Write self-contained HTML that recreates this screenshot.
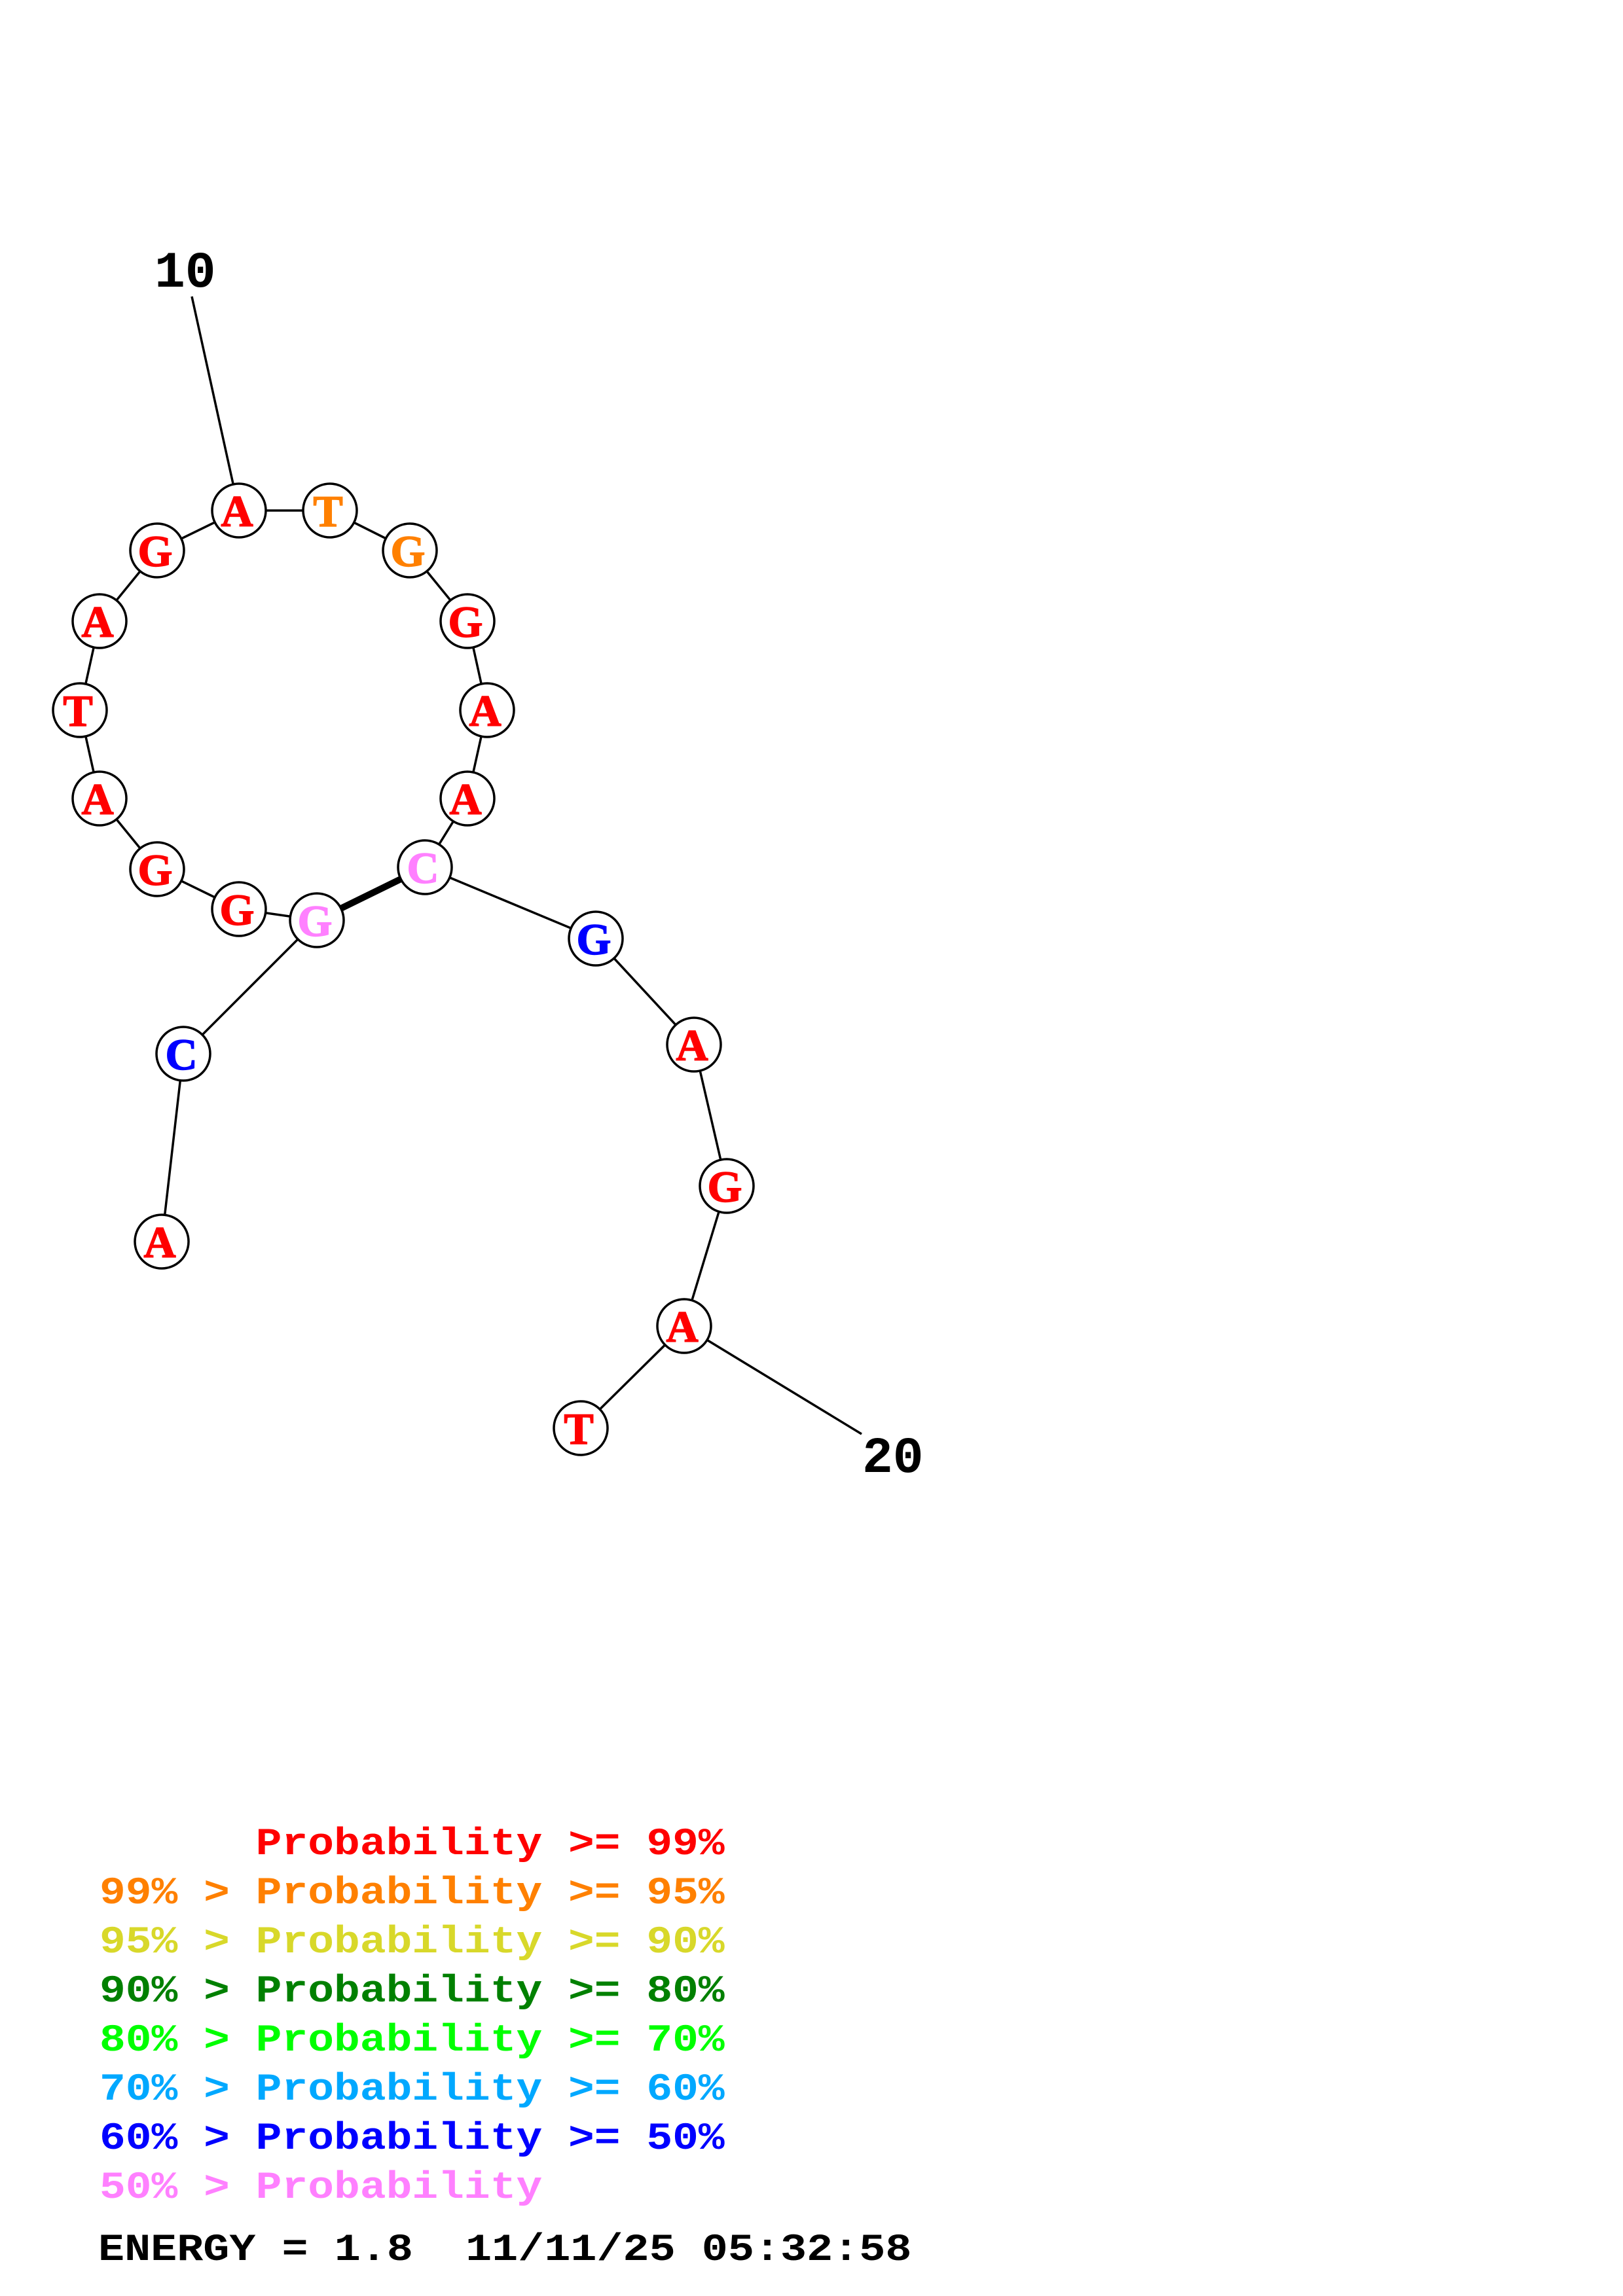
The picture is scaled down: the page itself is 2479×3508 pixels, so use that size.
<!DOCTYPE html>
<html><head><meta charset="utf-8"><style>html,body{margin:0;padding:0;background:#fff}svg{display:block}
.n{font-family:"Liberation Serif",serif;font-weight:bold;font-size:68px;text-anchor:middle;stroke:currentColor;stroke-width:1.5}
.l{font-family:"Liberation Mono",monospace;font-weight:bold;font-size:66.3px;white-space:pre}
.b{font-family:"Liberation Mono",monospace;font-weight:bold;font-size:78px}
circle{fill:#fff;stroke:#000;stroke-width:3.5}</style></head><body>
<svg width="2479" height="3508" viewBox="0 0 2479 3508" xmlns="http://www.w3.org/2000/svg">
<g transform="translate(0,1)">
<g stroke="#000" stroke-width="3.5" fill="none">
<polyline points="293,452 365,779 504,779 626,840 714,948 744,1084 714,1219 649,1324 910,1433 1060,1595 1110,1811 1045,2025 1316,2190"/>
<polyline points="365,779 240,840 152,948 122,1084 152,1219 240,1327 365,1388 484,1405 280,1609 247,1896"/>
<line x1="1045" y1="2025" x2="887" y2="2181"/>
<line x1="484" y1="1405" x2="649" y2="1324" stroke-width="10"/>
</g>
<g>
<circle cx="365" cy="779" r="41"/><circle cx="504" cy="779" r="41"/><circle cx="626" cy="840" r="41"/><circle cx="714" cy="948" r="41"/><circle cx="744" cy="1084" r="41"/><circle cx="714" cy="1219" r="41"/><circle cx="649" cy="1324" r="41"/><circle cx="484" cy="1405" r="41"/><circle cx="365" cy="1388" r="41"/><circle cx="240" cy="1327" r="41"/><circle cx="152" cy="1219" r="41"/><circle cx="122" cy="1084" r="41"/><circle cx="152" cy="948" r="41"/><circle cx="240" cy="840" r="41"/><circle cx="910" cy="1433" r="41"/><circle cx="1060" cy="1595" r="41"/><circle cx="1110" cy="1811" r="41"/><circle cx="1045" cy="2025" r="41"/><circle cx="887" cy="2181" r="41"/><circle cx="280" cy="1609" r="41"/><circle cx="247" cy="1896" r="41"/>
</g>
</g>
<g fill="#f00" color="#f00" transform="translate(0,-2)">
<text class="n" x="362" y="806">A</text>
<text class="n" x="501" y="806" fill="#ff8000" color="#ff8000">T</text>
<text class="n" x="623" y="867" fill="#ff8000" color="#ff8000">G</text>
<text class="n" x="711" y="975">G</text>
<text class="n" x="741" y="1111">A</text>
<text class="n" x="711" y="1246">A</text>
<text class="n" x="646" y="1351" fill="#ff80ff" color="#ff80ff">C</text>
<text class="n" x="481" y="1432" fill="#ff80ff" color="#ff80ff">G</text>
<text class="n" x="362" y="1415">G</text>
<text class="n" x="237" y="1354">G</text>
<text class="n" x="149" y="1246">A</text>
<text class="n" x="119" y="1111">T</text>
<text class="n" x="149" y="975">A</text>
<text class="n" x="237" y="867">G</text>
<text class="n" x="907" y="1460" fill="#00f" color="#00f">G</text>
<text class="n" x="1057" y="1622">A</text>
<text class="n" x="1107" y="1838">G</text>
<text class="n" x="1042" y="2052">A</text>
<text class="n" x="884" y="2208">T</text>
<text class="n" x="277" y="1636" fill="#00f" color="#00f">C</text>
<text class="n" x="244" y="1923">A</text>
</g>
<text class="b" x="236" y="438">10</text>
<text class="b" x="1317" y="2249">20</text>
<g>
<text class="l" transform="translate(152,2833) scale(1,.88)" fill="#f00" xml:space="preserve">      Probability &gt;= 99%</text>
<text class="l" transform="translate(152,2908) scale(1,.88)" fill="#ff8000" xml:space="preserve">99% &gt; Probability &gt;= 95%</text>
<text class="l" transform="translate(152,2983) scale(1,.88)" fill="#d8d82a" xml:space="preserve">95% &gt; Probability &gt;= 90%</text>
<text class="l" transform="translate(152,3058) scale(1,.88)" fill="#008000" xml:space="preserve">90% &gt; Probability &gt;= 80%</text>
<text class="l" transform="translate(152,3133) scale(1,.88)" fill="#0f0" xml:space="preserve">80% &gt; Probability &gt;= 70%</text>
<text class="l" transform="translate(152,3208) scale(1,.88)" fill="#00a8ff" xml:space="preserve">70% &gt; Probability &gt;= 60%</text>
<text class="l" transform="translate(152,3283) scale(1,.88)" fill="#00f" xml:space="preserve">60% &gt; Probability &gt;= 50%</text>
<text class="l" transform="translate(152,3358) scale(1,.88)" fill="#ff80ff" xml:space="preserve">50% &gt; Probability</text>
<text class="l" transform="translate(150,3453) scale(1,.88)" style="font-size:66.8px" fill="#000" xml:space="preserve">ENERGY = 1.8  11/11/25 05:32:58</text>
</g>
</svg>
</body></html>
